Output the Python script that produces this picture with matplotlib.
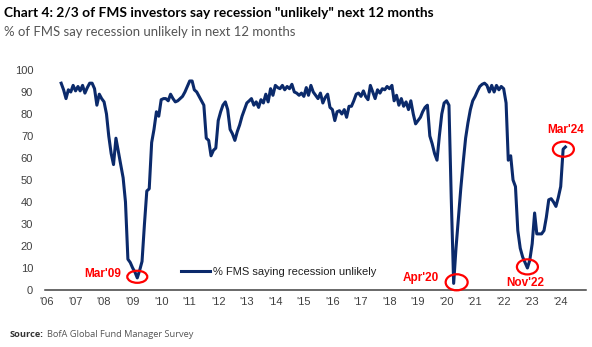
import numpy as np
import pandas as pd
import matplotlib
matplotlib.use("Agg")
import matplotlib.pyplot as plt
import matplotlib.dates as mdates
from matplotlib.patches import Ellipse

# monthly % of FMS saying recession "unlikely", Jul 2006 - Mar 2024
vals_2006_2009 = [94, 91, 87, 91, 90, 93,
                  90.5, 92.5, 90.5, 93, 89.5, 92, 94, 94, 91.5, 84, 89, 87,
                  85.5, 80, 70, 62, 57, 69, 63, 57, 51, 40, 14, 12.5,
                  10, 8, 5.5, 9, 13, 30, 45, 46, 67, 73, 81, 79]
vals_2010_2013 = [86.5, 87, 87, 86, 89, 87, 85.5, 86, 87, 88, 90, 92.5,
                  95, 95, 91, 90, 88, 86, 84, 69, 68, 61, 63.5, 64.5,
                  77, 81, 84, 85.5, 82, 73, 71, 68, 72, 75, 79, 82,
                  85, 86, 87, 84, 85.5, 83, 86.5, 85, 89, 85.5, 91.5, 88.5]
vals_2014_2017 = [93, 92, 91.5, 93, 91, 92.5, 91.5, 93.5, 90, 89.5, 88.5, 89.5,
                  88, 92, 88.5, 93, 90, 88.5, 87, 89.5, 85, 87.5, 89, 83,
                  82, 77, 81, 81.5, 80, 82, 78.5, 83.5, 83.5, 86, 89, 89.5,
                  88, 90.5, 88, 86.5, 93, 90, 87, 91, 89.5, 91.5, 91, 92.5]
vals_2018_2021 = [91.5, 93, 86, 88.5, 84, 87, 83.5, 85.5, 82, 86, 80, 75.5,
                  77, 78.5, 81, 83, 84, 70, 66.5, 62, 59, 70, 80, 85,
                  86, 84, 42, 3, 19, 33, 46, 58, 69, 76, 82, 86,
                  88, 90.5, 92.5, 93.5, 94, 93, 90, 93, 90, 93, 91, 92.5]
vals_2022_2024 = [91.5, 85, 59, 61, 50, 47, 27, 19, 15, 12.5, 10, 13.5,
                  21, 35, 25.5, 25.5, 25.5, 27, 33, 41, 41.5, 40, 38, 42,
                  47, 64, 65]

pct_unlikely = vals_2006_2009 + vals_2010_2013 + vals_2014_2017 + vals_2018_2021 + vals_2022_2024
months = pd.date_range("2006-07-01", "2024-03-01", freq="MS")

years = list(range(2006, 2025))
year_labels = ["'%02d" % (y % 100) for y in years]

callouts = ["Mar'09", "Apr'20", "Nov'22", "Mar'24"]
callout_months = ["2009-03-01", "2020-04-01", "2022-11-01", "2024-03-01"]

navy = "#0b2a6b"
red = "#ff0000"
grey = "#404040"

fig = plt.figure(figsize=(5.92, 3.47), dpi=100)
ax = fig.add_axes([0.076, 0.1643, 0.9139, 0.634])

ax.plot(months, pct_unlikely, color=navy, lw=2.2, solid_joinstyle="round",
        label="% FMS saying recession unlikely")

ax.set_ylim(0, 100)
ax.set_yticks(range(0, 101, 10))
ax.set_xlim(pd.Timestamp("2005-12-06"), pd.Timestamp("2024-11-20"))
ax.set_xticks([pd.Timestamp("%d-01-01" % y) for y in years])
ax.set_xticklabels(year_labels)

for s in ["top", "right", "left"]:
    ax.spines[s].set_visible(False)
ax.spines["bottom"].set_color(grey)
ax.spines["bottom"].set_linewidth(1.1)
ax.tick_params(axis="both", length=0, labelsize=8, labelcolor=grey)
ax.tick_params(axis="y", pad=8.5)
ax.tick_params(axis="x", pad=5)
for lab in ax.get_xticklabels() + ax.get_yticklabels():
    lab.set_fontfamily("Liberation Sans")

# red circles + labels
px_per_day = 28.54 / 365.25
px_per_unit = 2.19
ell_sizes = [(20, 12), (22, 16), (21, 15), (21, 15)]
ell_shift = [(0, 0.5), (3, 0.5), (0, 0.5), (-2, -1)]
text_off = [(-35, 3), (-36, 4), (-2, -16), (2, 19)]
s = pd.Series(pct_unlikely, index=months)
for name, mth, (w, h), (sx, sy), (tx, ty) in zip(callouts, callout_months, ell_sizes, ell_shift, text_off):
    d = pd.Timestamp(mth)
    cx = mdates.date2num(d) + sx / px_per_day
    cy = s[d] + sy
    ax.add_patch(Ellipse((cx, cy), w / px_per_day, h / px_per_unit, fill=False,
                         edgecolor=red, lw=1.6, clip_on=False, zorder=5))
    ax.annotate(name, (cx, cy), xytext=(tx, ty), textcoords="offset pixels",
                ha="center", va="center", color=red, fontsize=8.5,
                fontweight="bold", family="Liberation Sans")

leg = ax.legend(loc="center left", bbox_to_anchor=(0.251, 0.082), frameon=False,
                borderaxespad=0, borderpad=0, handlelength=2.6, handletextpad=0.3,
                prop={"family": "Liberation Sans", "size": 8})
for t in leg.get_texts():
    t.set_color("#202020")

title = fig.text(0.006, 0.962, "Chart 4: 2/3 of FMS investors say recession \"unlikely\" next 12 months",
                 fontsize=10.5, fontweight="bold", family="Lato", color="black",
                 va="center", ha="left")
subtitle = fig.text(0.006, 0.907, "% of FMS say recession unlikely in next 12 months",
                    fontsize=9, family="Lato", color="#555555", va="center", ha="left")
fig.text(0.017, 0.035, "Source:", fontsize=6.7, fontweight="bold", family="Open Sans",
         color="#333333", va="center", ha="left")
fig.text(0.080, 0.035, "BofA Global Fund Manager Survey", fontsize=6.7, family="Open Sans",
         color="#555555", va="center", ha="left")

# fit header widths to the reference (title ends ~433px, subtitle ~295px)
fig.canvas.draw()
r = fig.canvas.get_renderer()
for t, target in [(title, 430), (subtitle, 292)]:
    w = t.get_window_extent(r).width
    t.set_fontsize(t.get_fontsize() * target / w)

fig.savefig("out.png", dpi=100)
